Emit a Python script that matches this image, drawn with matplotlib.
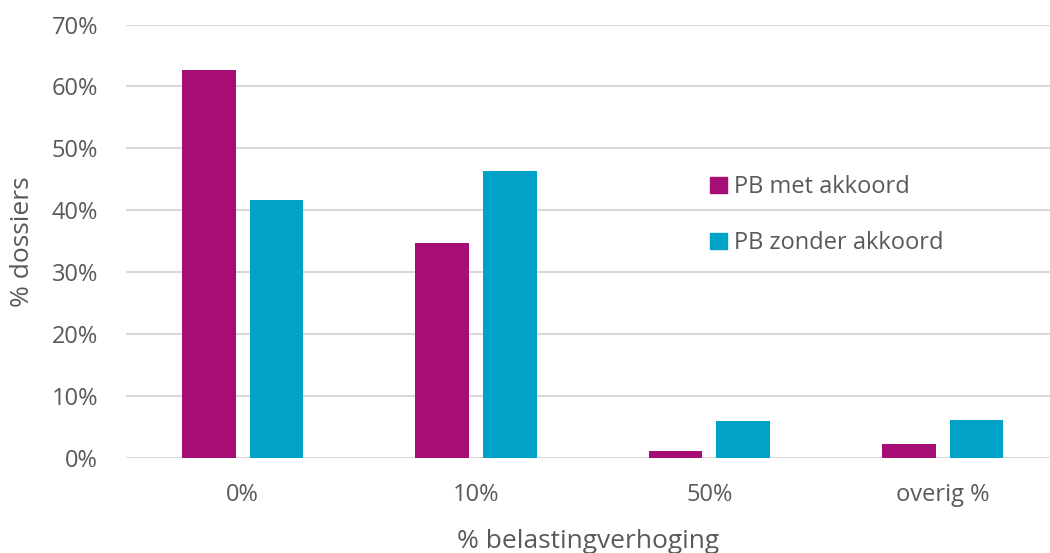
import numpy as np
import matplotlib.pyplot as plt
from matplotlib.patches import Patch

categories = ["0%", "10%", "50%", "overig %"]
met_akkoord = [62.7, 34.7, 1.1, 2.3]
zonder_akkoord = [41.6, 46.3, 6.0, 6.1]
series_names = ["PB met akkoord", "PB zonder akkoord"]

magenta = "#A60E75"
cyan = "#00A2C7"
grey = "#595959"

plt.rcParams["font.family"] = ["Open Sans", "DejaVu Sans"]

fig = plt.figure(figsize=(10.5, 5.53), dpi=100)
ax = fig.add_axes([126 / 1050, 95 / 553, 924 / 1050, 433.5 / 553])

x = np.arange(len(categories))
w = 0.23
ax.bar(x - 0.145, np.array(met_akkoord) / 100, w, color=magenta, zorder=3)
ax.bar(x + 0.145, np.array(zonder_akkoord) / 100, w, color=cyan, zorder=3)

ax.set_ylim(0, 0.70)
ax.set_xlim(-0.5, 3.46)
ax.set_yticks(np.arange(0, 0.71, 0.10))
ax.set_yticklabels([f"{int(round(v * 100))}%" for v in np.arange(0, 0.71, 0.10)])
ax.set_xticks(x)
ax.set_xticklabels(categories)
ax.grid(axis="y", color="#D9D9D9", linewidth=1.5, zorder=0)
for s in ax.spines.values():
    s.set_visible(False)
ax.tick_params(length=0, labelsize=17, colors=grey)
ax.tick_params(axis="y", pad=20)
ax.tick_params(axis="x", pad=18)

ax.set_ylabel("% dossiers", fontsize=19, color=grey, labelpad=12)
ax.set_xlabel("% belastingverhoging", fontsize=19, color=grey, labelpad=16)

handles = [Patch(color=magenta), Patch(color=cyan)]
fig.legend(handles, series_names, loc="upper left", bbox_to_anchor=(689 / 1050, 1 - 154 / 553),
           frameon=False, fontsize=17, labelcolor=grey, handlelength=0.7, handleheight=0.7,
           handletextpad=0.3, labelspacing=1.35)

fig.savefig("out.png", dpi=100)
